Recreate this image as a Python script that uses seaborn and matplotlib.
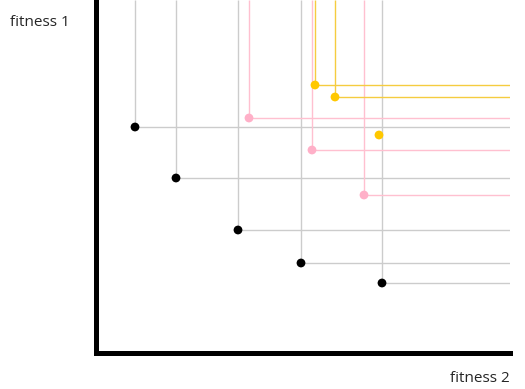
import matplotlib
matplotlib.use("Agg")
import matplotlib.pyplot as plt
import seaborn as sns
import pandas as pd

# fitness values (arbitrary units)
black_f2 = [39, 80, 142, 205, 286]
black_f1 = [226, 175, 123, 90, 70]
pink_f2 = [153, 216, 268]
pink_f1 = [235, 203, 158]
yellow_f2 = [219, 239, 283]
yellow_f1 = [268, 256, 218]
# which points get their dominance lines
yellow_lines = [True, True, False]

colors = {"front 1": "#000000", "front 2": "#ffb0c8", "front 3": "#ffc800"}
line_colors = {"front 1": "#cccccc", "front 2": "#ffc0d0", "front 3": "#f5cc40"}

df = pd.DataFrame({
    "f2": black_f2 + pink_f2 + yellow_f2,
    "f1": black_f1 + pink_f1 + yellow_f1,
    "front": ["front 1"] * len(black_f2) + ["front 2"] * len(pink_f2) + ["front 3"] * len(yellow_f2),
    "lines": [True] * len(black_f2) + [True] * len(pink_f2) + yellow_lines,
})

sns.set_style("white")
plt.rcParams['font.family'] = ['Open Sans', 'DejaVu Sans']

fig = plt.figure(figsize=(5.25, 3.89), dpi=100)
ax = fig.add_axes([96 / 525, 36 / 389, 414 / 525, 353 / 389])

xmax, ymax = 414, 353
ax.set_xlim(0, xmax)
ax.set_ylim(0, ymax)

# dominance lines: up to the top and out to the right
for front, grp in df[df["lines"]].groupby("front"):
    c = line_colors[front]
    ax.vlines(grp["f2"], grp["f1"], ymax, color=c, lw=1, zorder=1)
    ax.hlines(grp["f1"], grp["f2"], xmax, color=c, lw=1, zorder=1)

sns.scatterplot(data=df, x="f2", y="f1", hue="front", palette=colors,
                s=40, edgecolor="none", legend=False, ax=ax, zorder=3)

ax.set_xticks([])
ax.set_yticks([])
ax.set_xlabel("")
ax.set_ylabel("")
for side in ["top", "right"]:
    ax.spines[side].set_visible(False)
for side in ["left", "bottom"]:
    ax.spines[side].set_color("black")
    ax.spines[side].set_linewidth(3.6)

fig.text(10 / 525, 1 - 22 / 389, "fitness 1", fontsize=11, va="center", ha="left")
fig.text(510 / 525, 1 - 378 / 389, "fitness 2", fontsize=11, va="center", ha="right")

fig.savefig("out.png", dpi=100)
